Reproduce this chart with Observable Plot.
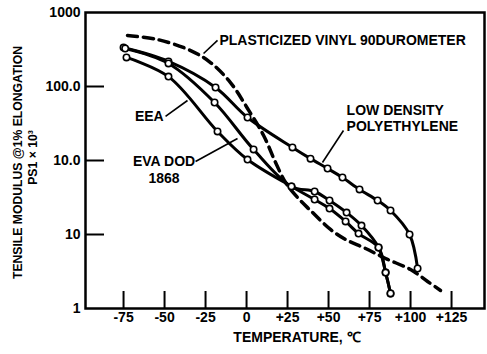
<!DOCTYPE html>
<html><head><meta charset="utf-8">
<script src="https://cdn.jsdelivr.net/npm/d3@7"></script>
<script src="https://cdn.jsdelivr.net/npm/@observablehq/plot@0.6"></script>
<style>
body{margin:0;background:#fff}
svg{font-family:"Liberation Sans",Arial,Helvetica,sans-serif}
</style>
</head><body><div id="chart"></div>
<script>
// Temperature (°C) and tensile modulus (scale units)
const ldpeTemp = [-75, -47.6, -18.9, 0.6, 28.0, 39.0, 49.4, 58.5, 68.9, 79.9, 87.8, 99.4, 104.3];
const ldpeMod  = [336, 218, 96.9, 38.1, 15.0, 10.6, 7.8, 5.89, 4.06, 2.88, 2.11, 1.0, 0.347];

const evaTemp = [-74, -47.6, -19.5, 4.3, 27.4, 41.5, 50.6, 61.0, 70.1, 80.5, 84.8, 87.8];
const evaMod  = [326, 205, 60.8, 14.1, 4.46, 3.81, 2.88, 1.98, 1.32, 0.667, 0.306, 0.16];

const eeaTemp = [-73.2, -47.6, -17.7, 0.6, 27.4, 41.5, 50.6, 60.4, 68.3, 80.5, 84.8, 87.8];
const eeaMod  = [247, 136, 24.7, 10.3, 4.46, 2.97, 2.24, 1.5, 1.03, 0.667, 0.306, 0.16];

const vinylTemp = [-72.6, -54.3, -34.1, -22.0, -9.8, 0.6, 10.4, 17.7, 23.8, 31.1, 39.0, 51.2, 60.4, 72.6, 84.8, 100.0, 110.4, 118.3];
const vinylMod  = [489, 431, 306, 211, 113, 50.5, 21.8, 9.4, 5.05, 3.16, 2.11, 1.17, 0.855, 0.647, 0.474, 0.336, 0.232, 0.175];

const xTicks = [-75, -50, -25, 0, 25, 50, 75, 100, 125];
const xTickLabels = ["-75", "-50", "-25", "0", "+25", "+50", "+75", "+100", "+125"];
const yTicks = [0.1, 1, 10, 100, 1000];
const yTickLabels = ["1", "10", "10.0", "100.0", "1000"];
const yInnerTicks = [1, 10, 100];

const xTitle = "TEMPERATURE, \u2103";
const yTitle1 = "TENSILE MODULUS @1% ELONGATION";
const yTitle2 = "PS1 \u00d7 10\u00b3";

// annotations
const annoText = ["PLASTICIZED VINYL 90DUROMETER", "EEA", "EVA DOD\n1868", "LOW DENSITY\nPOLYETHYLENE"];
const annoX = [-16.5, -50.5, -50.3, 61.0];
const annoY = [419, 39.4, 7.67, 38.1];
const leaderX1 = [-26.2, -49.4, -31.1, 59.1];
const leaderY1 = [279, 39.4, 9.69, 25.4];
const leaderX2 = [-17.7, -36.0, -5.5, 46.3];
const leaderY2 = [419, 64.7, 19.8, 9.4];

const rows = (t, m) => t.map((x, i) => ({x, y: m[i]}));
const ldpe = rows(ldpeTemp, ldpeMod);
const eva = rows(evaTemp, evaMod);
const eea = rows(eeaTemp, eeaMod);
const vinyl = rows(vinylTemp, vinylMod);
const xLab = new Map(xTicks.map((d, i) => [d, xTickLabels[i]]));
const yLab = new Map(yTicks.map((d, i) => [d, yTickLabels[i]]));
const annos = annoText.map((t, i) => ({t, x: annoX[i], y: annoY[i]}));
const leaders = leaderX1.map((x1, i) => ({x1, y1: leaderY1[i], x2: leaderX2[i], y2: leaderY2[i]}));

const fs = 14;
const fw = "bold";
const chart = Plot.plot({
  width: 487, height: 354,
  marginLeft: 85, marginRight: 3, marginTop: 12, marginBottom: 46,
  style: {background: "white", color: "black", fontFamily: '"Liberation Sans", Arial, sans-serif'},
  x: {domain: [-98.2, 145.1]},
  y: {type: "log", domain: [0.1, 1000]},
  marks: [
    Plot.axisX(xTicks, {tickSize: 0, tickPadding: 4, tickFormat: d => xLab.get(d), fontSize: fs, fontWeight: fw, label: null}),
    Plot.axisX(xTicks, {tickSize: -17, strokeWidth: 2, tickFormat: () => "", label: null}),
    Plot.axisY(yTicks, {tickSize: 0, tickPadding: 5, tickFormat: d => yLab.get(d), fontSize: fs, fontWeight: fw, label: null}),
    Plot.axisY(yInnerTicks, {tickSize: -19, strokeWidth: 2, tickFormat: () => "", label: null}),
    Plot.frame({stroke: "black", strokeWidth: 2.5}),
    Plot.text([xTitle], {frameAnchor: "bottom", dy: 33, dx: 12, fontSize: fs, fontWeight: fw, fill: "black"}),
    Plot.text([yTitle1], {frameAnchor: "left", textAnchor: "middle", lineAnchor: "middle", rotate: -90, dx: -67, dy: 2, fontSize: 12.2, fontWeight: fw, fill: "black"}),
    Plot.text([yTitle2], {frameAnchor: "left", textAnchor: "middle", lineAnchor: "middle", rotate: -90, dx: -52, dy: -3, fontSize: 12.2, fontWeight: fw, fill: "black"}),
    Plot.line(vinyl, {x: "x", y: "y", curve: "catmull-rom", stroke: "black", strokeWidth: 3.5, strokeDasharray: "10,6"}),
    Plot.line(ldpe, {x: "x", y: "y", curve: "catmull-rom", stroke: "black", strokeWidth: 3}),
    Plot.line(eva, {x: "x", y: "y", curve: "catmull-rom", stroke: "black", strokeWidth: 3}),
    Plot.line(eea, {x: "x", y: "y", curve: "catmull-rom", stroke: "black", strokeWidth: 3}),
    Plot.dot([...ldpe, ...eva, ...eea], {x: "x", y: "y", r: 3.2, fill: "white", stroke: "black", strokeWidth: 1.6}),
    Plot.link(leaders, {x1: "x1", y1: "y1", x2: "x2", y2: "y2", stroke: "black", strokeWidth: 1.6}),
    Plot.text([annos[0]], {x: "x", y: "y", text: "t", textAnchor: "start", fontSize: fs, fontWeight: fw, fill: "black"}),
    Plot.text([annos[1]], {x: "x", y: "y", text: "t", textAnchor: "end", fontSize: fs, fontWeight: fw, fill: "black"}),
    Plot.text([annos[2]], {x: "x", y: "y", text: "t", textAnchor: "middle", fontSize: fs, fontWeight: fw, lineHeight: 1.2, fill: "black"}),
    Plot.text([annos[3]], {x: "x", y: "y", text: "t", textAnchor: "start", fontSize: fs, fontWeight: fw, lineHeight: 1.15, fill: "black"})
  ]
});
document.getElementById("chart").appendChild(chart);
</script>
</body></html>
